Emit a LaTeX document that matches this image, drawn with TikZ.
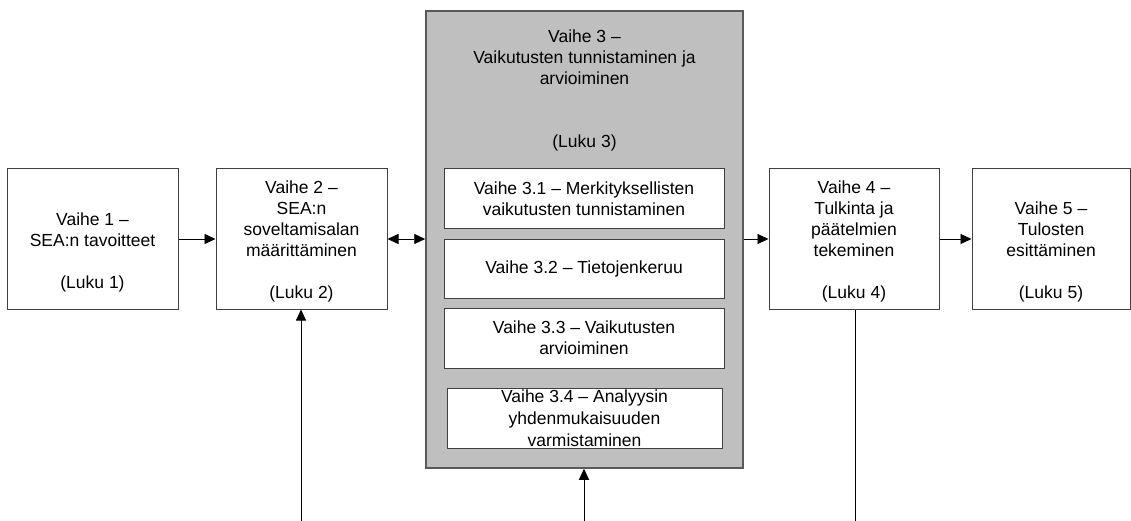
\documentclass[tikz,border=0pt]{standalone}
\usepackage{fontspec}
\setmainfont{Liberation Sans}
\usetikzlibrary{arrows.meta}
\begin{document}
\begin{tikzpicture}[x=1pt,y=-1pt,
  every node/.style={font=\fontsize{17.5}{21}\selectfont},
  boxr/.style={draw=black!75, line width=1pt, fill=white, inner sep=0pt},
  bigbox/.style={draw=black!65, line width=1.5pt, fill=black!25, inner sep=0pt},
  lbl/.style={anchor=north, align=center, inner sep=0pt},
  sublbl/.style={align=center, inner sep=0pt},
  conn/.style={line width=0.9pt, black},
  arr/.style={conn, -{Triangle[length=11pt,width=10pt]}},
  darr/.style={conn, {Triangle[length=11pt,width=10pt]}-{Triangle[length=11pt,width=10pt]}}
]
\useasboundingbox (0,0) rectangle (1131,521);
\fill[white] (0,0) rectangle (1131,521);

% main boxes
\node[boxr, minimum width=171pt, minimum height=140pt] (b1) at (92.5,239) {};
\node[boxr, minimum width=171pt, minimum height=140pt] (b2) at (301.5,239) {};
\node[bigbox, minimum width=317pt, minimum height=457pt] (b3) at (584.5,239.5) {};
\node[boxr, minimum width=170pt, minimum height=140pt] (b4) at (854,239) {};
\node[boxr, minimum width=158pt, minimum height=140pt] (b5) at (1051,239) {};

% sub boxes
\node[boxr, minimum width=280pt, minimum height=60pt] (s1) at (584,199) {};
\node[boxr, minimum width=280pt, minimum height=59pt] (s2) at (584,268.5) {};
\node[boxr, minimum width=280pt, minimum height=60pt] (s3) at (584,338) {};
\node[boxr, minimum width=275pt, minimum height=60pt] (s4) at (584.5,418) {};

% texts
\node[lbl] (t1) at (92.5,213) {Vaihe 1 --\\SEA:n tavoitteet\\[21pt](Luku 1)};
\node[lbl] (t2) at (301.5,180.5) {Vaihe 2 --\\SEA:n\\soveltamisalan\\määrittäminen\\[21pt](Luku 2)};
\node[lbl] (t3) at (584.5,30) {Vaihe 3 --\\Vaikutusten tunnistaminen ja\\arvioiminen\\[42pt](Luku 3)};
\node[lbl] (t4) at (854,180.5) {Vaihe 4 --\\Tulkinta ja\\päätelmien\\tekeminen\\[21pt](Luku 4)};
\node[lbl] (t5) at (1051,201.5) {Vaihe 5 --\\Tulosten\\esittäminen\\[21pt](Luku 5)};

\node[sublbl] (ts1) at (s1) {Vaihe 3.1 -- Merkityksellisten\\vaikutusten tunnistaminen};
\node[sublbl] (ts2) at (s2) {Vaihe 3.2 -- Tietojenkeruu};
\node[sublbl] (ts3) at (s3) {Vaihe 3.3 -- Vaikutusten\\arvioiminen};
\node[sublbl, font=\fontsize{17.5}{22}\selectfont] (ts4) at (s4) {Vaihe 3.4 -- Analyysin\\yhdenmukaisuuden\\varmistaminen};

% connector ends
\coordinate (in2) at (301,521);
\coordinate (in3) at (584,521);
\coordinate (out4) at (855,521);

% connectors
\draw[arr] (b1.east) -- (b2.west);
\draw[darr] (b2.east) -- (b2.east -| b3.west);
\draw[arr] (b3.east |- b4.west) -- (b4.west);
\draw[arr] (b4.east) -- (b5.west);
\draw[arr] (in2) -- (in2 |- b2.south);
\draw[arr] (in3) -- (in3 |- b3.south);
\draw[conn] (out4 |- b4.south) -- (out4);
\end{tikzpicture}
\end{document}
